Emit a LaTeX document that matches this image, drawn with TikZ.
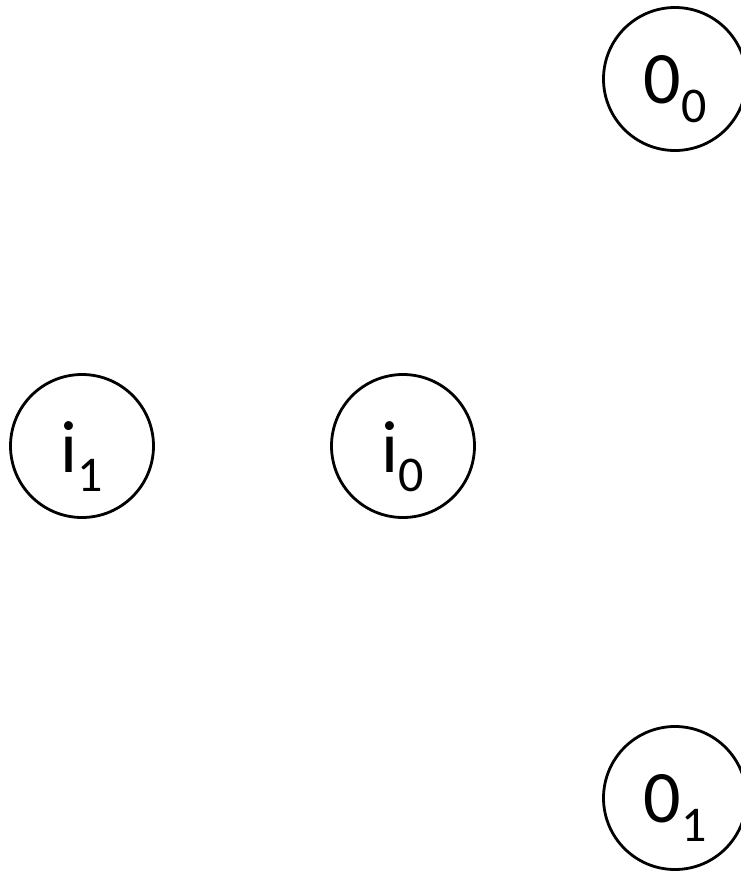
\documentclass[tikz,border=0pt]{standalone}
\usepackage{fontspec}
\setmainfont{Carlito}
\newcommand{\bigtxt}{\fontsize{74}{74}\selectfont}
\newcommand{\subtxt}{\fontsize{50}{50}\selectfont}
\newcommand{\lblsub}[2]{{\bigtxt #1}\raisebox{-19pt}{\subtxt #2}}
\begin{document}
\begin{tikzpicture}[x=1pt,y=-1pt,
  statecircle/.style={draw=black, circle, line width=2.8pt, minimum size=143pt, inner sep=0pt},
  lbl/.style={anchor=base, inner sep=0pt, text=black}]
\useasboundingbox (0,0) rectangle (741,873);
\clip (0,0) rectangle (741,873);
\node[statecircle] (o0) at (675,79) {};
\node[statecircle] (i1) at (82,446) {};
\node[statecircle] (i0) at (403,446) {};
\node[statecircle] (o1) at (675,798) {};
\node[lbl] (o0t) at ([yshift=-24pt]o0.center) {\lblsub{0}{0}};
\node[lbl] (i1t) at ([yshift=-26pt]i1.center) {\lblsub{i}{1}};
\node[lbl] (i0t) at ([yshift=-26pt]i0.center) {\lblsub{i}{0}};
\node[lbl] (o1t) at ([yshift=-24pt]o1.center) {\lblsub{0}{1}};
\end{tikzpicture}
\end{document}
